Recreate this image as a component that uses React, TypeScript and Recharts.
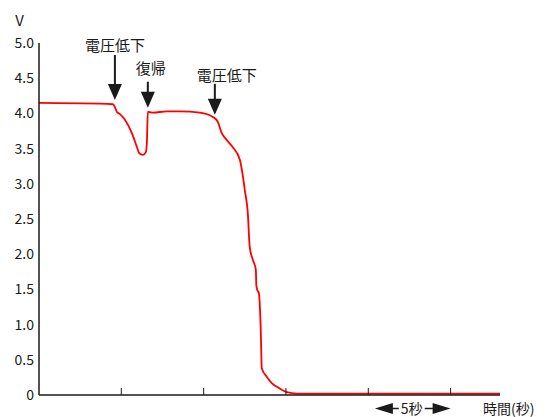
import { LineChart, Line, XAxis, YAxis, ReferenceLine } from 'recharts';

// time (s) vs voltage (V)
const times = [0, 3.7, 4.49, 4.61, 4.73, 4.92, 5.22, 5.64, 5.95, 6.07, 6.31, 6.49, 6.55, 6.61, 6.67, 6.92, 7.77, 8.56, 9.77, 10.56, 10.86, 11.1, 11.41, 11.77, 12.2, 12.32, 12.5, 12.68, 12.8, 12.99, 13.17, 13.2, 13.26, 13.35, 13.47, 13.53, 13.83, 14.14, 14.5, 15.05, 15.66, 28];
const volts = [4.15, 4.14, 4.13, 4.09, 4.02, 3.99, 3.91, 3.72, 3.52, 3.44, 3.41, 3.45, 3.58, 4.02, 4.02, 4.01, 4.03, 4.03, 4.01, 3.95, 3.88, 3.72, 3.62, 3.52, 3.34, 3.2, 2.91, 2.59, 2.1, 1.92, 1.78, 1.56, 1.49, 1.45, 0.92, 0.38, 0.26, 0.17, 0.11, 0.04, 0.02, 0.02];

const yTicks = [0, 0.5, 1, 1.5, 2, 2.5, 3, 3.5, 4, 4.5, 5];
const xTicks = [5, 10, 15, 20, 25];

// annotation arrows
const noteLabels = ['電圧低下', '復帰', '電圧低下'];
const noteTimes = [4.61, 6.61, 10.68];
const noteTops = [4.83, 4.45, 4.42];
const noteTips = [4.19, 4.08, 3.98];
const noteLabelShift = [[0, 10], [3, 14], [12, 9]];

// 5 second scale bar under the axis
const spanStart = 20.4;
const spanEnd = 25.0;
const spanLevel = -0.19;
const spanLabel = '5秒';

const data = times.map((t, i) => ({ t, v: volts[i] }));

const FONT = '"Noto Sans CJK JP", "Noto Sans", sans-serif';
const INK = '#1a1a1a';

const XTick = ({ x, y }: any) => (
  <line x1={x} x2={x} y1={y} y2={y - 7} stroke={INK} strokeWidth={1} />
);

const arrowShape = (i: number) => (p: any) => {
  const { x1, y1, x2, y2 } = p;
  const [dx, dy] = noteLabelShift[i];
  return (
    <g>
      <line x1={x1} x2={x2} y1={y1} y2={y2 - 14} stroke={INK} strokeWidth={2} />
      <polygon points={`${x2 - 7},${y2 - 16} ${x2 + 7},${y2 - 16} ${x2},${y2}`} fill={INK} />
      <text x={x1 + dx} y={y1 - dy} textAnchor="middle" dominantBaseline="central" fontSize={15} fill={INK} fontFamily={FONT}>
        {noteLabels[i]}
      </text>
    </g>
  );
};

const spanShape = (p: any) => {
  const { x1, y1, x2 } = p;
  const mid = (x1 + x2) / 2;
  return (
    <g>
      <line x1={x1 + 16} x2={x2 - 16} y1={y1} y2={y1} stroke={INK} strokeWidth={1.5} />
      <polygon points={`${x1},${y1} ${x1 + 18},${y1 - 5.5} ${x1 + 18},${y1 + 5.5}`} fill={INK} />
      <polygon points={`${x2},${y1} ${x2 - 18},${y1 - 5.5} ${x2 - 18},${y1 + 5.5}`} fill={INK} />
      <rect x={mid - 14} y={y1 - 7} width={26} height={14} fill="#fff" />
      <text x={mid - 1} y={y1} textAnchor="middle" dominantBaseline="central" fontSize={14} fill={INK} fontFamily={FONT}>
        {spanLabel}
      </text>
    </g>
  );
};

export default function App() {
  return (
    <div style={{ position: 'absolute', left: 0, top: 0, width: 547, height: 417, background: '#fff', fontFamily: FONT }}>
      <LineChart width={547} height={417} data={data} margin={{ top: 43, right: 47, bottom: 0, left: 0 }}>
        <XAxis
          dataKey="t"
          type="number"
          domain={[0, 28]}
          ticks={xTicks}
          height={22}
          tickSize={0}
          tickMargin={0}
          tickLine={false}
          tick={<XTick />}
          axisLine={{ stroke: INK, strokeWidth: 1.5 }}
          label={{ value: '時間(秒)', position: 'right', offset: -17, dy: 3, fontSize: 14, fill: INK }}
        />
        <YAxis
          type="number"
          domain={[0, 5]}
          ticks={yTicks}
          width={39}
          tickSize={0}
          tickMargin={5}
          tickLine={false}
          interval={0}
          tickFormatter={(v: number) => (v === 0 ? '0' : v.toFixed(1))}
          tick={{ fill: INK, fontSize: 14 }}
          axisLine={{ stroke: INK, strokeWidth: 1.5 }}
          label={{ value: 'V', position: 'top', offset: 17, fontSize: 15, fill: INK }}
        />
        <Line type="monotone" dataKey="v" stroke="#ff0000" strokeWidth={1.8} dot={false} isAnimationActive={false} />
        {noteLabels.map((_, i) => (
          <ReferenceLine
            key={i}
            segment={[{ x: noteTimes[i], y: noteTops[i] }, { x: noteTimes[i], y: noteTips[i] }]}
            ifOverflow="visible"
            shape={arrowShape(i)}
          />
        ))}
        <ReferenceLine
          segment={[{ x: spanStart, y: spanLevel }, { x: spanEnd, y: spanLevel }]}
          ifOverflow="visible"
          shape={spanShape}
        />
      </LineChart>
    </div>
  );
}
